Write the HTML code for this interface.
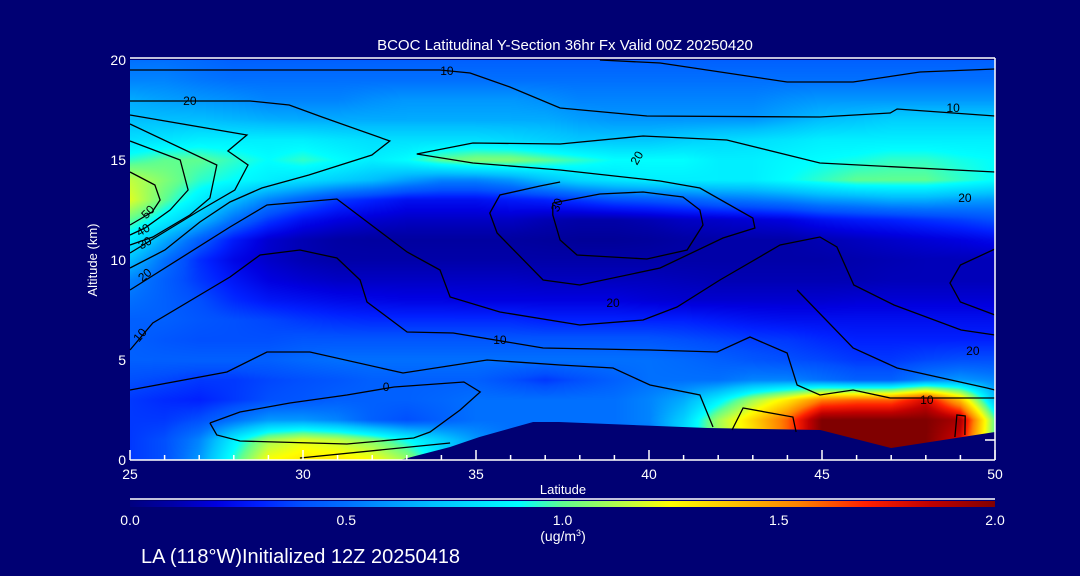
<!DOCTYPE html>
<html><head><meta charset="utf-8">
<style>
html,body{margin:0;padding:0;background:#000073;}
#wrap{position:relative;width:1080px;height:576px;background:#000073;overflow:hidden;font-family:"Liberation Sans",sans-serif;}
#field{position:absolute;left:130px;top:60px;}
#ov{position:absolute;left:0;top:0;}
</style></head>
<body>
<div id="wrap">
<canvas id="field" width="865" height="400"></canvas>
<svg id="ov" width="1080" height="576" xmlns="http://www.w3.org/2000/svg"></svg>
</div>
<script>
// ---- data ----
const lats = [25,26,27,28,29,30,31,32,33,34,35,36,37,38,39,40,41,42,43,44,45,46,47,48,49,50];
const alts = [0,1,2,3,4,5,6,7,8,9,10,11,12,13,14,15,16,17,18,19,20];
const a0=[0.35,0.4,0.6,0.95,1.25,1.3,1.3,1.25,1.1,0.8,0.6,0.5,0.5,0.5,0.5,0.5,0.8,1.1,1.3,1.6,2,2,2,2,1.8,1.0];
const a1=[0.35,0.4,0.55,0.85,1.1,1.2,1.15,1.05,0.9,0.75,0.6,0.5,0.5,0.5,0.5,0.5,0.8,1.1,1.3,1.6,2,2,2,2,1.8,1.0];
const a2=[0.35,0.35,0.4,0.5,0.6,0.6,0.55,0.45,0.4,0.45,0.5,0.5,0.5,0.5,0.5,0.55,0.75,1.1,1.35,1.6,2,2,2,2,1.9,1.0];
const a3=[0.35,0.32,0.3,0.35,0.4,0.42,0.45,0.45,0.45,0.47,0.5,0.5,0.5,0.5,0.5,0.55,0.65,0.85,1.1,1.3,1.55,1.6,1.6,1.8,1.4,0.7];
const a4=[0.4,0.38,0.35,0.35,0.38,0.4,0.42,0.45,0.45,0.45,0.45,0.4,0.35,0.4,0.45,0.5,0.5,0.5,0.55,0.55,0.5,0.45,0.45,0.55,0.6,0.55];
const a5=[0.45,0.45,0.45,0.45,0.45,0.48,0.5,0.5,0.5,0.5,0.5,0.5,0.5,0.5,0.5,0.5,0.48,0.45,0.42,0.4,0.38,0.35,0.35,0.38,0.4,0.4];
const a6=[0.45,0.42,0.4,0.4,0.4,0.42,0.42,0.42,0.42,0.42,0.42,0.42,0.42,0.42,0.42,0.42,0.4,0.38,0.36,0.35,0.32,0.3,0.3,0.3,0.3,0.3];
const a7=[0.45,0.45,0.42,0.4,0.38,0.35,0.33,0.32,0.32,0.32,0.32,0.32,0.3,0.3,0.3,0.3,0.3,0.28,0.26,0.25,0.25,0.25,0.25,0.25,0.25,0.25];
const a8=[0.5,0.45,0.4,0.32,0.27,0.25,0.23,0.22,0.21,0.21,0.2,0.2,0.2,0.2,0.2,0.18,0.17,0.17,0.17,0.17,0.17,0.18,0.18,0.18,0.18,0.18];
const a9=[0.55,0.45,0.35,0.27,0.2,0.17,0.15,0.15,0.15,0.15,0.15,0.15,0.14,0.14,0.14,0.14,0.13,0.12,0.12,0.12,0.12,0.12,0.13,0.13,0.13,0.13];
const a10=[0.7,0.5,0.33,0.22,0.16,0.12,0.1,0.1,0.1,0.1,0.1,0.1,0.1,0.1,0.1,0.1,0.1,0.1,0.1,0.1,0.1,0.11,0.12,0.13,0.13,0.13];
const a11=[0.85,0.65,0.45,0.28,0.17,0.12,0.09,0.08,0.08,0.08,0.08,0.08,0.07,0.06,0.06,0.07,0.09,0.1,0.1,0.1,0.12,0.14,0.16,0.18,0.2,0.23];
const a12=[1.0,0.85,0.7,0.5,0.35,0.25,0.2,0.17,0.15,0.15,0.15,0.15,0.12,0.1,0.1,0.12,0.15,0.16,0.18,0.2,0.25,0.28,0.3,0.33,0.36,0.4];
const a13=[1.2,1.0,0.85,0.7,0.55,0.45,0.35,0.3,0.25,0.25,0.25,0.28,0.3,0.35,0.4,0.42,0.45,0.5,0.52,0.55,0.6,0.62,0.65,0.65,0.62,0.6];
const a14=[1.15,1.05,0.95,0.9,0.85,0.8,0.75,0.7,0.62,0.55,0.55,0.6,0.7,0.78,0.82,0.85,0.85,0.85,0.85,0.9,0.95,1.0,1.0,1.0,0.95,0.9];
const a15=[0.95,1.0,1.0,0.95,0.9,0.95,0.9,0.85,0.9,1.0,1.05,1.05,1.0,0.95,0.9,0.9,0.9,0.85,0.85,0.88,0.9,0.92,0.95,0.95,0.92,0.9];
const a16=[0.8,0.82,0.85,0.85,0.85,0.85,0.82,0.8,0.8,0.8,0.8,0.78,0.75,0.72,0.72,0.72,0.75,0.78,0.8,0.82,0.85,0.85,0.85,0.85,0.85,0.85];
const a17=[0.7,0.7,0.7,0.68,0.66,0.65,0.65,0.65,0.65,0.65,0.65,0.65,0.65,0.62,0.6,0.6,0.6,0.6,0.6,0.65,0.7,0.72,0.75,0.75,0.75,0.75];
const a18=[0.65,0.62,0.6,0.58,0.55,0.55,0.55,0.58,0.6,0.6,0.6,0.6,0.58,0.55,0.55,0.55,0.55,0.55,0.55,0.58,0.6,0.6,0.6,0.6,0.6,0.6];
const a19=[0.55,0.55,0.52,0.5,0.5,0.5,0.5,0.5,0.5,0.5,0.5,0.5,0.5,0.5,0.5,0.5,0.5,0.5,0.5,0.5,0.5,0.5,0.5,0.5,0.5,0.5];
const a20=[0.5,0.5,0.48,0.45,0.45,0.45,0.45,0.45,0.45,0.45,0.45,0.45,0.45,0.45,0.45,0.45,0.45,0.45,0.45,0.45,0.45,0.45,0.45,0.45,0.45,0.45];
const grid=[a0,a1,a2,a3,a4,a5,a6,a7,a8,a9,a10,a11,a12,a13,a14,a15,a16,a17,a18,a19,a20];

const terrain=[[32.8,0],[34.25,0.65],[35.1,1.15],[36.65,1.9],[37.4,1.9],[41.7,1.6],[44.95,1.5],[47.0,0.6],[50,1.4],[50,0]];

const cK1=[[25,19.5],[33.96,19.5],[34.83,19.35],[35.98,18.65],[37.43,17.6],[39.94,17.2],[44.94,17.15],[46.97,17.35],[47.17,17.55],[50,17.2]];
const cK2=[[38.58,20],[40.32,19.85],[43.99,18.9],[45.9,18.9],[47.83,19.4],[50,19.55]];
const cK3=[[25,17.95],[28.47,17.95],[29.6,17.75],[30.55,17.15],[32.51,15.95],[31.99,15.25],[30.17,14.25],[28.81,13.6],[27.89,12.9],[27.02,11.9],[26.01,10.5],[25,9.6]];
const cK4=[[33.29,15.3],[34.91,15.85],[37.43,15.8],[39.83,16.2],[42.25,16],[44.94,14.85],[50,14.4]];
const cK5=[[33.29,15.3],[34.91,14.85],[37.43,14.5],[40.32,13.95],[41.47,13.6],[43,12.1],[43.06,11.6],[42.14,11.1],[40.32,9.6],[38,8.75],[36.94,9],[35.61,11.35],[35.4,12.35],[35.69,13.25],[36.85,13.7],[37.43,13.9]];
const cK6=[[37.22,12.85],[38.58,13.3],[39.83,13.4],[40.98,13.15],[41.47,12.5],[41.56,11.75],[41.1,10.5],[39.94,10.05],[37.92,10.25],[37.43,11],[37.22,12.25],[37.22,12.85]];
const cM1=[[25,8.5],[27.89,11.65],[28.96,12.75],[30.98,13.05],[33.01,10.4],[33.96,9.5],[34.25,8.15],[35.69,7.4],[38,6.75],[39.83,7],[40.81,7.65],[42.05,9],[43.79,10.75],[44.94,11.15],[45.43,10.65],[45.92,8.75],[47.08,7.75],[49.02,6.5],[50,6.25]];
const cR1=[[50,10.55],[49,9.75],[48.7,8.85],[49,7.9],[50,7.25]];
const cM2=[[25,5.5],[25.66,6.85],[27.89,9.15],[28.76,10.25],[29.91,10.5],[30.98,10.1],[31.65,9],[31.85,7.9],[33.01,6.4],[34.34,6.35],[36.94,5.6],[40.03,5.5],[41.97,5.4],[42.92,6.15],[43.99,5.35],[44.28,3.75],[44.94,3.25],[45.9,3.5],[46.97,3.1],[50,3.1]];
const cM3=[[44.28,8.5],[45.9,5.6],[47.17,4.6],[49.77,3.6],[50,3.5]];
const cM4=[[25,3.5],[27.8,4.4],[28.96,5.4],[30.2,5.4],[32.89,4.35],[35.32,5],[37.43,4.75],[38.96,4.6],[40.03,3.75],[41.47,3.25],[41.85,1.65]];
const cM5=[[27.31,1.85],[28.18,2.4],[29.62,2.85],[31.27,3.25],[32.63,3.65],[34.65,3.9],[35.12,3.4],[34.54,2.5],[33.67,1.4],[33.2,1.1],[31.27,0.8],[28.18,0.95],[27.51,1.25],[27.31,1.85]];
const cM6=[[29.91,0.1],[34.25,0.85]];
const cY1=[[42.4,1.5],[42.72,2.6],[44.16,2.15],[44.25,1.4]];
const cY2=[[48.84,1.15],[48.9,2.25],[49.14,2.2],[49.13,1.25]];
const cLa=[[25,17.25],[28.38,16.25],[27.83,15.45],[28.41,14.75],[28.03,13.5],[26.94,12.4],[25,10.35]];
const cLb=[[25,16.8],[27.51,14.75],[27.31,13.1],[26.73,12.25],[25.66,11.15],[25,10.75]];
const cLc=[[25,15.95],[26.45,15],[26.68,13.5],[26.16,12.5],[25.43,11.6],[25,11.25]];
const cLd=[[25,14.4],[25.72,13.75],[25.87,13],[25.64,12.4],[25,11.75]];
const contours=[cK1,cK2,cK3,cK4,cK5,cK6,cM1,cR1,cM2,cM3,cM4,cM5,cM6,cY1,cY2,cLa,cLb,cLc,cLd];

const labelText=["10","20","10","20","20","50","40","30","20","10","10","0","20","20","10","30"];
const labelLat=[34.16,26.73,48.79,49.13,39.65,25.52,25.38,25.43,25.43,25.29,35.69,32.4,38.96,49.36,48.03,37.34];
const labelAlt=[19.45,17.95,17.6,13.1,15.1,12.4,11.5,10.85,9.25,6.25,6.0,3.65,7.85,5.45,3.0,12.75];
const labelRot=[0,0,0,0,-60,-45,-30,-30,-40,-50,0,0,0,0,0,-70];

const xTicks=[25,30,35,40,45,50];
const yTicks=[0,5,10,15,20];
const cbTicks=[0,0.5,1.0,1.5,2.0];
const cbLabels=["0.0","0.5","1.0","1.5","2.0"];

// ---- scales ----
const X0=130,X1=995,Y0=460,Y1=60;
const xs=lat=>X0+(lat-25)/(50-25)*(X1-X0);
const ys=alt=>Y0-(alt-0)/(20-0)*(Y0-Y1);
const cbx=v=>130+v/2*(995-130);

const stops=[[0,'#000080'],[0.1,'#0000a8'],[0.2,'#0000e0'],[0.3,'#0020ff'],[0.4,'#0050ff'],[0.5,'#0070ff'],[0.6,'#0098ff'],[0.7,'#00c0ff'],[0.8,'#00e0ff'],[0.9,'#00ffff'],[1.0,'#60ff90'],[1.15,'#c0ff40'],[1.25,'#ffff00'],[1.4,'#ffc000'],[1.55,'#ff8000'],[1.7,'#ff2000'],[1.85,'#c00000'],[2.0,'#800000']];
const sRGB=stops.map(s=>[s[0],parseInt(s[1].slice(1,3),16),parseInt(s[1].slice(3,5),16),parseInt(s[1].slice(5,7),16)]);
function cmap(v){
  if(v<=0)return sRGB[0].slice(1);
  for(let i=1;i<sRGB.length;i++){
    if(v<=sRGB[i][0]){const a=sRGB[i-1],b=sRGB[i],t=(v-a[0])/(b[0]-a[0]);
      return [a[1]+(b[1]-a[1])*t,a[2]+(b[2]-a[2])*t,a[3]+(b[3]-a[3])*t];}
  }
  return sRGB[sRGB.length-1].slice(1);
}
// ---- field ----
const cv=document.getElementById('field'),ctx=cv.getContext('2d');
const W=cv.width,H=cv.height,img=ctx.createImageData(W,H);
for(let py=0;py<H;py++){
  const alt=(Y0-(Y1+py+0.5))/(Y0-Y1)*20;
  let j=Math.min(Math.floor(alt),19),ty=alt-j; if(j<0){j=0;ty=0;}
  for(let px=0;px<W;px++){
    const lat=25+(px+0.5)/(X1-X0)*25;
    let i=Math.min(Math.floor(lat-25),24),tx=lat-25-i;
    const v=(grid[j][i]*(1-tx)+grid[j][i+1]*tx)*(1-ty)+(grid[j+1][i]*(1-tx)+grid[j+1][i+1]*tx)*ty;
    const c=cmap(v),k=(py*W+px)*4;
    img.data[k]=c[0];img.data[k+1]=c[1];img.data[k+2]=c[2];img.data[k+3]=255;
  }
}
ctx.putImageData(img,0,0);

// ---- overlay ----
const NS='http://www.w3.org/2000/svg',svg=document.getElementById('ov');
function mk(tag,attrs,parent){const e=document.createElementNS(NS,tag);for(const k in attrs)e.setAttribute(k,attrs[k]);(parent||svg).appendChild(e);return e;}
const ptsStr=a=>a.map(p=>xs(p[0]).toFixed(1)+','+ys(p[1]).toFixed(1)).join(' ');

const ter=mk('polygon',{points:ptsStr(terrain),fill:'#000073'});



const cg=mk('g',{fill:'none',stroke:'#000','stroke-width':'1.3'});


contours.forEach(c=>{
  const pl=mk('polyline',{points:ptsStr(c)},cg);
  
  
});
const lg=mk('g',{});


labelText.forEach((t,i)=>{
  const x=xs(labelLat[i]),y=ys(labelAlt[i]);
  const tx=mk('text',{x:x,y:y+4,'font-size':'12','text-anchor':'middle',fill:'#000',transform:`rotate(${labelRot[i]} ${x} ${y})`},lg);
  tx.textContent=t;
  
  
});

// axes
const ax=mk('g',{stroke:'#fff','stroke-width':'1.5'});


mk('line',{x1:X0,y1:Y0,x2:X1,y2:Y0},ax);
mk('line',{x1:X0,y1:Y1-2,x2:X1,y2:Y1-2},ax);
mk('line',{x1:X1,y1:Y1-2,x2:X1,y2:Y0},ax);
mk('line',{x1:X1-10,y1:ys(1),x2:X1,y2:ys(1)},ax);
for(let l=25;l<=50;l++){
  const major=(l%5===0);
  mk('line',{x1:xs(l),y1:Y0,x2:xs(l),y2:Y0-(major?10:5)},ax);
}
xTicks.forEach(l=>{
  const t=mk('text',{x:xs(l),y:Y0+19,'font-size':'14','text-anchor':'middle',fill:'#fff'});
  t.textContent=String(l);
  
  
});
yTicks.forEach(a=>{
  const t=mk('text',{x:X0-4,y:ys(a)+5,'font-size':'14','text-anchor':'end',fill:'#fff'});
  t.textContent=String(a);
  
  
});
const xt=mk('text',{x:563,y:494,'font-size':'13','text-anchor':'middle',fill:'#fff'});
xt.textContent='Latitude';


const yt=mk('text',{x:97,y:260,'font-size':'13','text-anchor':'middle',fill:'#fff',transform:'rotate(-90 97 260)'});
yt.textContent='Altitude (km)';


const ti=mk('text',{x:565,y:50,'font-size':'15','text-anchor':'middle',fill:'#fff','xml:space':'preserve'});
ti.textContent='BCOC Latitudinal Y-Section 36hr  Fx Valid 00Z 20250420';



// colorbar
const defs=mk('defs',{});
const gr=mk('linearGradient',{id:'cbg',x1:'0',x2:'1',y1:'0',y2:'0'},defs);
stops.forEach(s=>mk('stop',{offset:(s[0]/2),'stop-color':s[1]},gr));
const cbl=mk('line',{x1:130,y1:499,x2:995,y2:499,stroke:'#fff','stroke-width':'1.5'});


const cb=mk('rect',{x:130,y:501,width:865,height:6,fill:'url(#cbg)'});


cbTicks.forEach((v,i)=>{
  const t=mk('text',{x:cbx(v),y:525,'font-size':'14','text-anchor':'middle',fill:'#fff'});
  t.textContent=cbLabels[i];
  
  
});
const un=mk('text',{x:563,y:541,'font-size':'14','text-anchor':'middle',fill:'#fff'});
un.innerHTML='(ug/m<tspan dy="-5" font-size="9">3</tspan><tspan dy="5">)</tspan>';


const ft=mk('text',{x:141,y:563,'font-size':'20',fill:'#fff'});
ft.textContent='LA (118°W)Initialized 12Z 20250418';


</script>
</body></html>
